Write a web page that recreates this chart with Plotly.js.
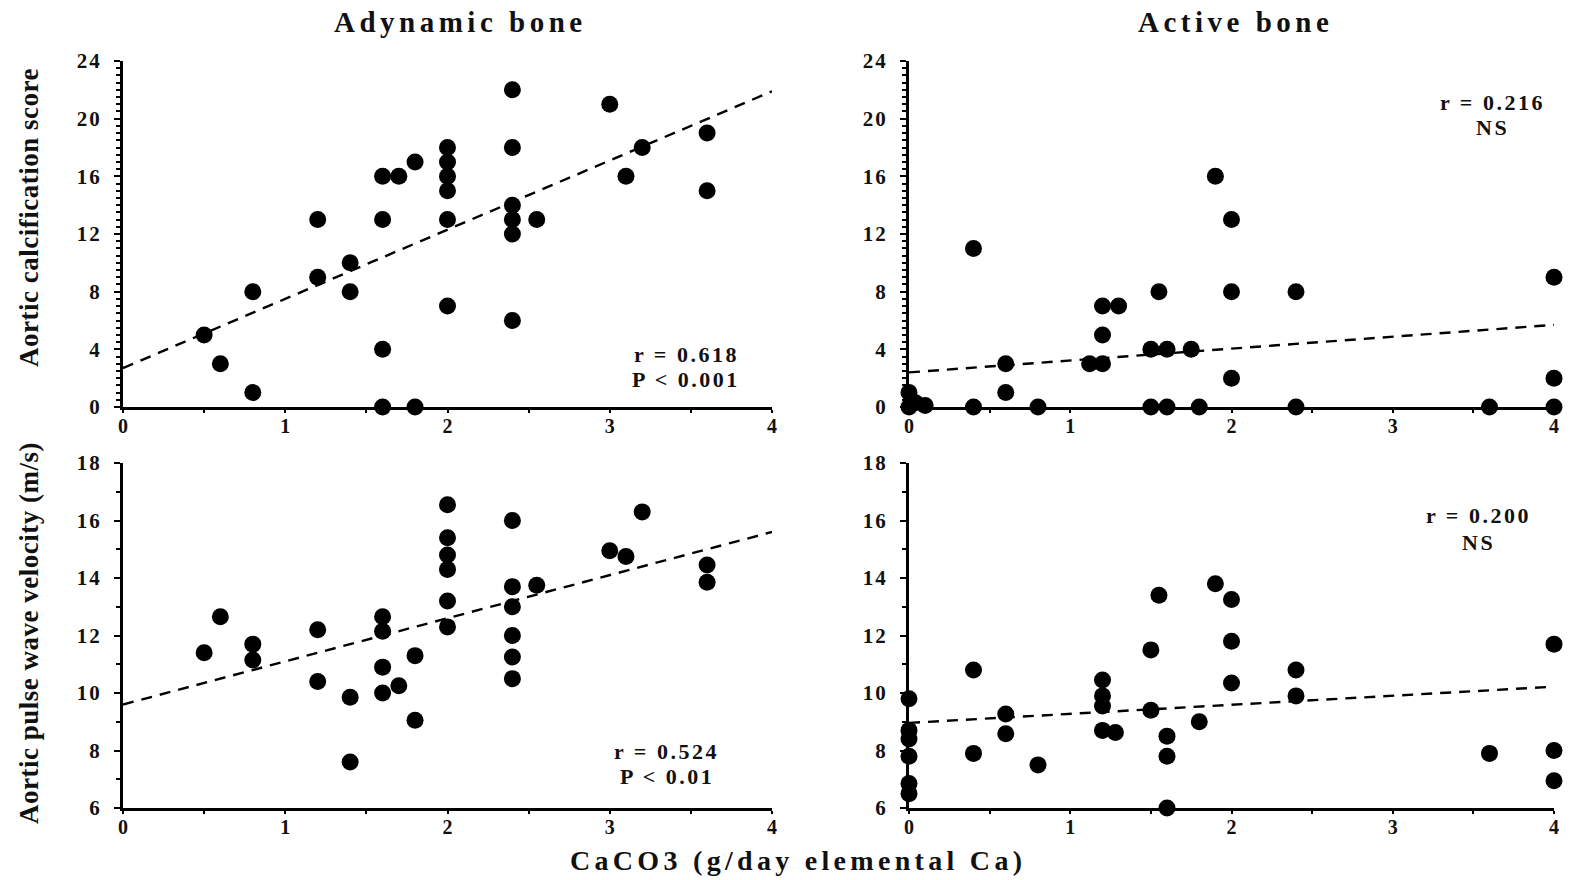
<!DOCTYPE html>
<html>
<head>
<meta charset="utf-8">
<script src="https://cdn.plot.ly/plotly-3.0.1.min.js"></script>
<style>html,body{margin:0;padding:0;background:#fff;}#chart{width:1575px;height:880px;}</style>
</head>
<body>
<div id="chart"></div>
<script>
// ---- data ----
const panelTitles = ["Adynamic bone", "Active bone"];
const yTitleCalc = "Aortic calcification score";
const yTitlePwv = "Aortic pulse wave velocity (m/s)";
const xTitle = "CaCO3 (g/day elemental Ca)";

const xAdynCalc = [0.5,0.6,0.8,0.8,1.2,1.2,1.4,1.4,1.6,1.7,1.6,1.6,1.6,1.8,1.8,2.0,2.0,2.0,2.0,2.0,2.0,2.4,2.4,2.4,2.4,2.4,2.4,2.55,3.0,3.2,3.1,3.6,3.6];
const yAdynCalc = [5,3,8,1,13,9,10,8,16,16,13,4,0,0,17,18,17,16,15,13,7,22,18,14,13,12,6,13,21,18,16,19,15];

const xActCalc = [0,0,0.04,0.1,0.17,0.4,0.4,0.6,0.6,0.8,1.12,1.2,1.2,1.2,1.3,1.5,1.6,1.75,1.55,1.5,1.6,1.8,1.9,2.0,2.0,2.0,2.4,2.4,3.6,4.0,4.0,4.0];
const yActCalc = [1,0,0.3,0.1,-0.4,11,0,3,1,0,3,3,5,7,7,4,4,4,8,0,0,0,16,13,8,2,8,0,0,9,2,0];

const xAdynPwv = [0.5,0.6,0.8,0.8,1.2,1.2,1.4,1.4,1.6,1.6,1.6,1.6,1.7,1.8,1.8,2.0,2.0,2.0,2.0,2.0,2.0,2.4,2.4,2.4,2.4,2.4,2.4,2.55,3.2,3.0,3.1,3.6,3.6];
const yAdynPwv = [11.4,12.65,11.7,11.15,12.2,10.4,9.85,7.6,12.65,12.15,10.9,10.0,10.25,11.3,9.05,16.55,15.4,14.8,14.3,13.2,12.3,16.0,13.7,13.0,12.0,11.25,10.5,13.75,16.3,14.95,14.75,14.45,13.85];

const xActPwv = [0,0,0,0,0,0,0.4,0.4,0.6,0.6,0.8,1.2,1.2,1.2,1.2,1.28,1.5,1.55,1.5,1.6,1.6,1.6,1.8,1.9,2.0,2.0,2.0,2.4,2.4,3.6,4.0,4.0,4.0];
const yActPwv = [9.8,8.7,8.4,7.8,6.85,6.5,10.8,7.9,9.27,8.58,7.5,10.45,9.9,9.55,8.7,8.63,11.5,13.4,9.4,8.5,7.8,6.0,9.0,13.8,13.25,11.8,10.35,10.8,9.9,7.9,11.7,8.0,6.95];

const xTrend = [0, 4];
const trendAdynCalc = [2.7, 21.9];
const trendActCalc = [2.4, 5.7];
const trendAdynPwv = [9.6, 15.6];
const trendActPwv = [8.96, 10.22];

const statAdynCalc = ["r = 0.618", "P < 0.001"];
const statActCalc = ["r = 0.216", "NS"];
const statAdynPwv = ["r = 0.524", "P < 0.01"];
const statActPwv = ["r = 0.200", "NS"];

const xTicks = [0,1,2,3,4];
const yTicksCalc = [0,4,8,12,16,20,24];
const yTicksPwv = [6,8,10,12,14,16,18];

// ---- drawing ----
const SERIF = "Liberation Serif, Times New Roman, serif";
function sp(t, px) { return '<span style="letter-spacing:' + px + 'px">' + t.replace(/</g, "&lt;") + '</span>'; }

const marker = {color: "black", size: 17};
function pts(x, y, xa, ya) {
  return {x: x, y: y, xaxis: xa, yaxis: ya, type: "scatter", mode: "markers",
          marker: marker, cliponaxis: false, showlegend: false, hoverinfo: "x+y"};
}
function trend(y, xa, ya) {
  return {x: xTrend, y: y, xaxis: xa, yaxis: ya, type: "scatter", mode: "lines",
          line: {color: "black", width: 2.4, dash: "11px,8px"}, showlegend: false, hoverinfo: "skip"};
}
const data = [
  trend(trendAdynCalc, "x", "y"), pts(xAdynCalc, yAdynCalc, "x", "y"),
  trend(trendActCalc, "x2", "y2"), pts(xActCalc, yActCalc, "x2", "y2"),
  trend(trendAdynPwv, "x3", "y3"), pts(xAdynPwv, yAdynPwv, "x3", "y3"),
  trend(trendActPwv, "x4", "y4"), pts(xActPwv, yActPwv, "x4", "y4")
];

const tickFont = {family: SERIF, size: 21, color: "#111", weight: "bold"};
const xTickFont = {family: SERIF, size: 20, color: "#111", weight: "bold"};
function xAxis(domain, anchor) {
  return {domain: domain, anchor: anchor, range: [0, 4], tickvals: xTicks, ticktext: xTicks.map(v => sp(String(v), 0)),
          showline: true, linewidth: 3, linecolor: "black", showgrid: false, zeroline: false,
          ticks: "outside", ticklen: 3, tickwidth: 2, tickcolor: "black", tickfont: xTickFont,
          ticklabelstandoff: -4,
          minor: {dtick: 0.5, tick0: 0, ticks: "outside", ticklen: 3, tickwidth: 2, tickcolor: "black"},
          fixedrange: true};
}
function yAxis(domain, anchor, range, vals, minorStep) {
  return {domain: domain, anchor: anchor, range: range, tickvals: vals, ticktext: vals.map(v => sp(String(v), 2)),
          showline: true, linewidth: 3, linecolor: "black", showgrid: false, zeroline: false,
          ticks: "outside", ticklen: 6, tickwidth: 2, tickcolor: "black", tickfont: tickFont,
          ticklabelstandoff: 8,
          minor: {dtick: minorStep, tick0: range[0], ticks: "outside", ticklen: 4, tickwidth: 2, tickcolor: "black"},
          fixedrange: true};
}
const dxL = [123/1575, 772/1575], dxR = [909/1575, 1554/1575];
const dyT = [(880-407)/880, (880-61)/880], dyB = [(880-808)/880, (880-463)/880];

function stat(lines, xa, ya, x, y1, y2) {
  const f = {family: SERIF, size: 22, color: "#111", weight: "bold"};
  return [
    {xref: xa, yref: ya, x: x, y: y1, text: sp(lines[0], 2.5), showarrow: false, font: f, xanchor: "center", yanchor: "middle"},
    {xref: xa, yref: ya, x: x, y: y2, text: sp(lines[1], 2.5), showarrow: false, font: f, xanchor: "center", yanchor: "middle"}
  ];
}
function ptxt(text, px, py, size, weight, spacing, angle) {
  return {xref: "paper", yref: "paper", x: px/1575, y: 1 - py/880, xanchor: "center", yanchor: "middle",
          text: sp(text, spacing), textangle: angle || 0, showarrow: false,
          font: {family: SERIF, size: size, color: "#111", weight: weight}};
}

const annotations = [
  ptxt(panelTitles[0], 461, 22, 29, "bold", 4.5),
  ptxt(panelTitles[1], 1235, 22, 29, "bold", 4.5),
  ptxt(yTitleCalc, 29, 218, 27, "bold", 0.5, -90),
  ptxt(yTitlePwv, 29, 633, 27, "bold", 0.5, -90),
  ptxt(xTitle, 798, 860, 28, "bold", 4.3)
].concat(
  stat(statAdynCalc, "x", "y", 3.47, 3.65, 1.93),
  stat(statActCalc, "x2", "y2", 3.62, 21.1, 19.4),
  stat(statAdynPwv, "x3", "y3", 3.35, 7.95, 7.1),
  stat(statActPwv, "x4", "y4", 3.53, 16.16, 15.25)
);

const layout = {
  width: 1575, height: 880,
  margin: {l: 0, r: 0, t: 0, b: 0},
  paper_bgcolor: "white", plot_bgcolor: "white",
  showlegend: false,
  xaxis: xAxis(dxL, "y"), yaxis: yAxis(dyT, "x", [0, 24], yTicksCalc, 0.5),
  xaxis2: xAxis(dxR, "y2"), yaxis2: yAxis(dyT, "x2", [0, 24], yTicksCalc, 0.5),
  xaxis3: xAxis(dxL, "y3"), yaxis3: yAxis(dyB, "x3", [6, 18], yTicksPwv, 1),
  xaxis4: xAxis(dxR, "y4"), yaxis4: yAxis(dyB, "x4", [6, 18], yTicksPwv, 1),
  annotations: annotations
};

Plotly.newPlot("chart", data, layout, {displayModeBar: false, staticPlot: true});
</script>
</body>
</html>
